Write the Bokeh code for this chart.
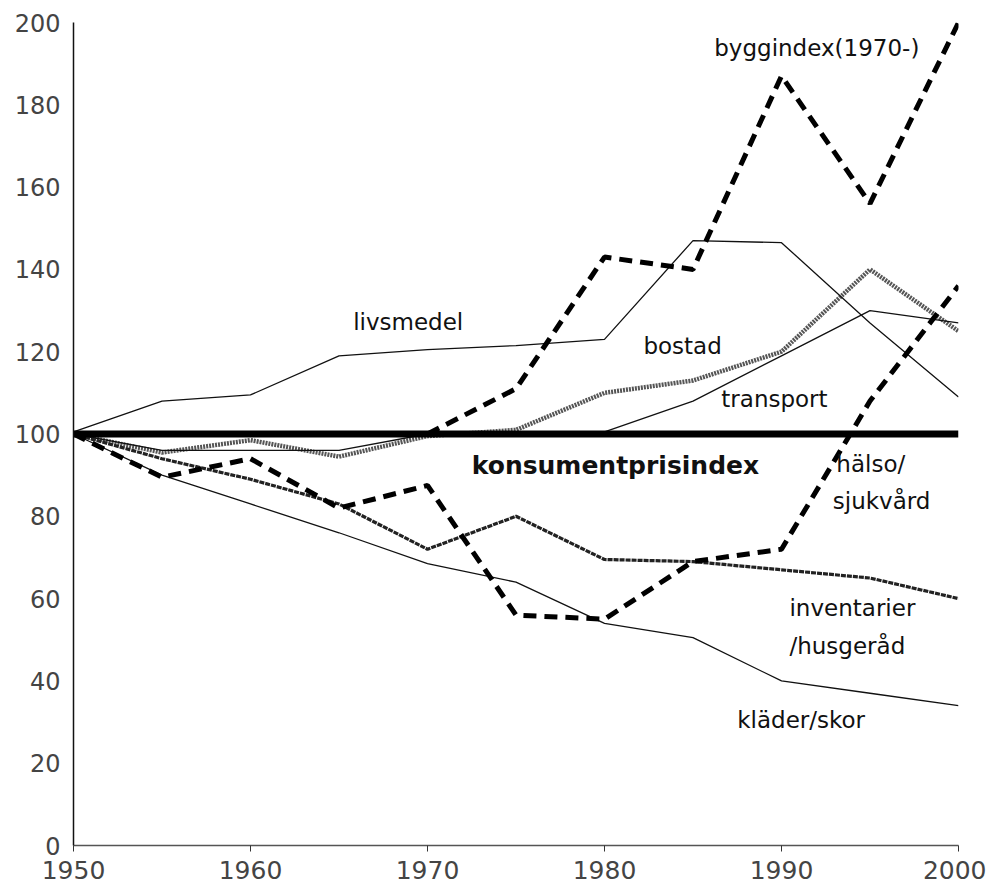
from bokeh.plotting import figure
from bokeh.models import Range1d, FixedTicker, Label
from bokeh.embed import file_html
from bokeh.resources import INLINE

years = [1950, 1955, 1960, 1965, 1970, 1975, 1980, 1985, 1990, 1995, 2000]
kpi = [100, 100, 100, 100, 100, 100, 100, 100, 100, 100, 100]
livsmedel = [100.5, 108, 109.5, 119, 120.5, 121.5, 123, 147, 146.5, 127, 109]
bostad = [100, 95.5, 98.5, 94.5, 99.5, 101, 110, 113, 120, 140, 125]
transport = [100, 96, 96, 96, 100, 100, 100.5, 108, 119, 130, 127]
halso = [100, 89.5, 94, 82, 87.5, 56, 55, 69, 72, 108, 136]
inventarier = [100, 94, 89, 83, 72, 80, 69.5, 69, 67, 65, 60]
klader = [100, 90, 83, 76, 68.5, 64, 54, 50.5, 40, 37, 34]
bygg_years = [1970, 1975, 1980, 1985, 1990, 1995, 2000]
byggindex = [100, 111, 143, 140, 187, 156, 200]

x_ticks = [1950, 1960, 1970, 1980, 1990, 2000]
y_ticks = [0, 20, 40, 60, 80, 100, 120, 140, 160, 180, 200]

p = figure(frame_width=885, frame_height=823,
           x_range=Range1d(1950, 2000), y_range=Range1d(0, 200),
           output_backend="svg", toolbar_location=None,
           min_border_left=73, min_border_right=28,
           min_border_top=22, min_border_bottom=40)
p.outline_line_color = None
p.xgrid.visible = False
p.ygrid.visible = False
p.background_fill_color = "white"
p.border_fill_color = "white"

p.xaxis.ticker = FixedTicker(ticks=x_ticks)
p.yaxis.ticker = FixedTicker(ticks=y_ticks)
p.xaxis.minor_tick_line_color = None
p.yaxis.minor_tick_line_color = None
p.yaxis.major_tick_line_color = None
p.xaxis.major_tick_in = 0
p.xaxis.major_tick_out = 6
p.xaxis.major_tick_line_color = "#333333"
p.xaxis.axis_line_color = "#555555"
p.xaxis.axis_line_width = 1.5
p.yaxis.axis_line_color = "#111111"
p.yaxis.axis_line_width = 1.5
for ax in (p.xaxis, p.yaxis):
    ax.major_label_text_font = "DejaVu Sans"
    ax.major_label_text_color = "#444444"
p.xaxis.major_label_text_font_size = "25px"
p.yaxis.major_label_text_font_size = "24px"
p.xaxis.major_label_standoff = 9
p.yaxis.major_label_standoff = 7

p.line(years, bostad, line_color="#555555", line_width=4.5, line_dash="2 1")
p.line(years, transport, line_color="#111111", line_width=1.3)
p.line(years, livsmedel, line_color="#111111", line_width=1.3)
p.line(years, klader, line_color="#111111", line_width=1.3)
p.line(years, inventarier, line_color="#222222", line_width=3.2, line_dash="5 1")
p.line(years, halso, line_color="black", line_width=5, line_dash="13 8")
p.line(bygg_years, byggindex, line_color="black", line_width=5, line_dash="13 8")
p.line(years, kpi, line_color="black", line_width=7)

labels = [
    ("livsmedel", 1965.8, 127.1, "normal", "23px"),
    ("bostad", 1982.2, 121.5, "normal", "23px"),
    ("transport", 1986.6, 108.6, "normal", "23px"),
    ("konsumentprisindex", 1972.5, 92.3, "bold", "25px"),
    ("hälso/", 1993.1, 92.8, "normal", "23px"),
    ("sjukvård", 1992.9, 83.8, "normal", "23px"),
    ("inventarier", 1990.45, 57.6, "normal", "23px"),
    ("/husgeråd", 1990.45, 48.6, "normal", "23px"),
    ("kläder/skor", 1987.5, 30.4, "normal", "23px"),
    ("byggindex(1970-)", 1986.2, 193.7, "normal", "23px"),
]
for txt, lx, ly, weight, size in labels:
    p.add_layout(Label(x=lx, y=ly, text=txt, text_font="DejaVu Sans",
                       text_font_size=size, text_font_style=weight,
                       text_color="#111111", text_baseline="middle",
                       text_align="left"))

open("out.html", "w").write(file_html(p, INLINE))
